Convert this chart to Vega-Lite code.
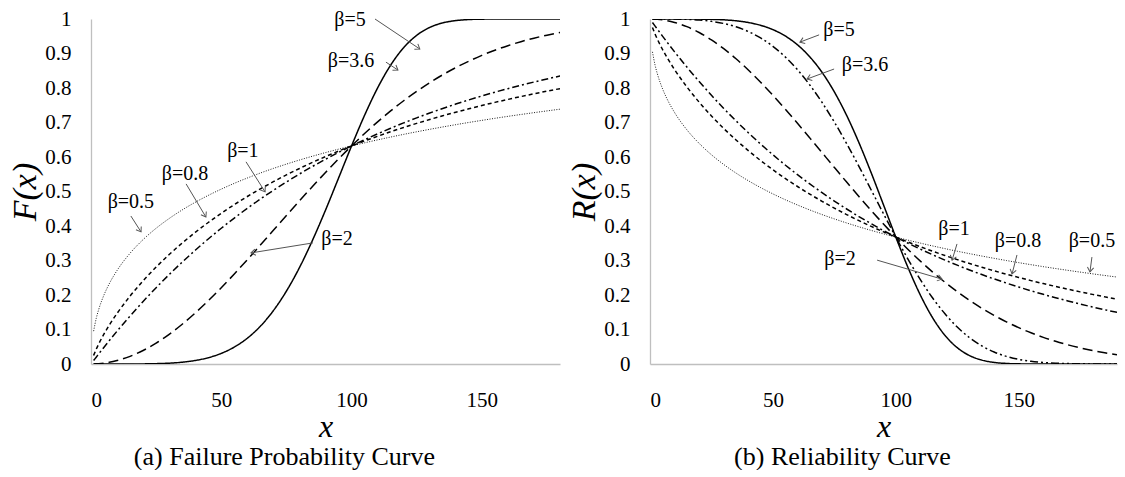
{
"$schema": "https://vega.github.io/schema/vega-lite/v6.json",
"background": "white",
"padding": {"left": 8, "top": 8, "right": 4, "bottom": 0},
"spacing": 7,
"resolve": {"scale": {"strokeDash": "independent", "x": "independent", "y": "independent"}},
"config": {
  "view": {"stroke": null},
  "font": "Liberation Serif",
  "text": {"font": "Liberation Serif"},
  "axis": {"domainColor": "#bfbfbf", "domainWidth": 1.3, "ticks": false, "grid": false, "labelOverlap": false, "labelSeparation": 0, "labelColor": "#000", "labelFont": "Liberation Serif", "labelFontSize": 21, "titleFont": "Liberation Serif", "titleFontWeight": "normal", "titleColor": "#000", "titleFontStyle": "italic"},
  "axisY": {"labelOverlap": false},
  "axisQuantitative": {"labelOverlap": false},
  "title": {"font": "Liberation Serif", "fontSize": 26, "fontWeight": "normal", "color": "#000", "orient": "bottom", "anchor": "middle", "frame": "bounds"}
},
"datasets": {
"curves": [
{"x":1,"F05":0.0952,"F08":0.0248,"F1":0.0100,"F2":0.0001,"F5":0,"R05":0.9048,"R08":0.9752,"R1":0.9900,"R2":0.9999,"R36":1,"R5":1},
{"x":2,"F05":0.1319,"F08":0.0428,"F1":0.0198,"F2":0.0004,"F5":0,"R05":0.8681,"R08":0.9572,"R1":0.9802,"R2":0.9996,"R36":1,"R5":1},
{"x":3,"F05":0.1590,"F08":0.0587,"F1":0.0296,"F2":0.0009,"F5":0,"R05":0.8410,"R08":0.9413,"R1":0.9704,"R2":0.9991,"R36":1,"R5":1},
{"x":5,"F05":0.2004,"F08":0.0870,"F1":0.0488,"F2":0.0025,"F5":0,"R05":0.7996,"R08":0.9130,"R1":0.9512,"R2":0.9975,"R36":1,"R5":1},
{"x":7,"F05":0.2325,"F08":0.1124,"F1":0.0676,"F2":0.0049,"F5":0,"R05":0.7675,"R08":0.8876,"R1":0.9324,"R2":0.9951,"R36":0.9999,"R5":1},
{"x":10,"F05":0.2711,"F08":0.1466,"F1":0.0952,"F2":0.0100,"F5":0,"R05":0.7289,"R08":0.8534,"R1":0.9048,"R2":0.9900,"R36":0.9997,"R5":1},
{"x":15,"F05":0.3211,"F08":0.1968,"F1":0.1393,"F2":0.0222,"F5":0.0001,"R05":0.6789,"R08":0.8032,"R1":0.8607,"R2":0.9778,"R36":0.9989,"R5":0.9999},
{"x":20,"F05":0.3606,"F08":0.2411,"F1":0.1813,"F2":0.0392,"F5":0.0003,"R05":0.6394,"R08":0.7589,"R1":0.8187,"R2":0.9608,"R36":0.9970,"R5":0.9997},
{"x":25,"F05":0.3935,"F08":0.2810,"F1":0.2212,"F2":0.0606,"F5":0.0010,"R05":0.6065,"R08":0.7190,"R1":0.7788,"R2":0.9394,"R36":0.9932,"R5":0.9990},
{"x":30,"F05":0.4217,"F08":0.3173,"F1":0.2592,"F2":0.0861,"F5":0.0024,"R05":0.5783,"R08":0.6827,"R1":0.7408,"R2":0.9139,"R36":0.9870,"R5":0.9976},
{"x":35,"F05":0.4466,"F08":0.3506,"F1":0.2953,"F2":0.1153,"F5":0.0052,"R05":0.5534,"R08":0.6494,"R1":0.7047,"R2":0.8847,"R36":0.9774,"R5":0.9948},
{"x":40,"F05":0.4687,"F08":0.3815,"F1":0.3297,"F2":0.1479,"F5":0.0102,"R05":0.5313,"R08":0.6185,"R1":0.6703,"R2":0.8521,"R36":0.9637,"R5":0.9898},
{"x":45,"F05":0.4887,"F08":0.4102,"F1":0.3624,"F2":0.1833,"F5":0.0183,"R05":0.5113,"R08":0.5898,"R1":0.6376,"R2":0.8167,"R36":0.9451,"R5":0.9817},
{"x":50,"F05":0.5069,"F08":0.4369,"F1":0.3935,"F2":0.2212,"F5":0.0308,"R05":0.4931,"R08":0.5631,"R1":0.6065,"R2":0.7788,"R36":0.9208,"R5":0.9692},
{"x":55,"F05":0.5237,"F08":0.4620,"F1":0.4231,"F2":0.2610,"F5":0.0491,"R05":0.4763,"R08":0.5380,"R1":0.5769,"R2":0.7390,"R36":0.8903,"R5":0.9509},
{"x":60,"F05":0.5391,"F08":0.4855,"F1":0.4512,"F2":0.3023,"F5":0.0748,"R05":0.4609,"R08":0.5145,"R1":0.5488,"R2":0.6977,"R36":0.8530,"R5":0.9252},
{"x":65,"F05":0.5535,"F08":0.5076,"F1":0.4780,"F2":0.3446,"F5":0.1095,"R05":0.4465,"R08":0.4924,"R1":0.5220,"R2":0.6554,"R36":0.8089,"R5":0.8905},
{"x":70,"F05":0.5669,"F08":0.5284,"F1":0.5034,"F2":0.3874,"F5":0.1547,"R05":0.4331,"R08":0.4716,"R1":0.4966,"R2":0.6126,"R36":0.7582,"R5":0.8453},
{"x":75,"F05":0.5794,"F08":0.5482,"F1":0.5276,"F2":0.4302,"F5":0.2113,"R05":0.4206,"R08":0.4518,"R1":0.4724,"R2":0.5698,"R36":0.7012,"R5":0.7887},
{"x":80,"F05":0.5912,"F08":0.5668,"F1":0.5507,"F2":0.4727,"F5":0.2794,"R05":0.4088,"R08":0.4332,"R1":0.4493,"R2":0.5273,"R36":0.6390,"R5":0.7206},
{"x":85,"F05":0.6023,"F08":0.5844,"F1":0.5726,"F2":0.5145,"F5":0.3584,"R05":0.3977,"R08":0.4156,"R1":0.4274,"R2":0.4855,"R36":0.5729,"R5":0.6416},
{"x":90,"F05":0.6128,"F08":0.6011,"F1":0.5934,"F2":0.5551,"F5":0.4459,"R05":0.3872,"R08":0.3989,"R1":0.4066,"R2":0.4449,"R36":0.5044,"R5":0.5541},
{"x":95,"F05":0.6227,"F08":0.6170,"F1":0.6133,"F2":0.5944,"F5":0.5387,"R05":0.3773,"R08":0.3830,"R1":0.3867,"R2":0.4056,"R36":0.4354,"R5":0.4613},
{"x":100,"F05":0.6321,"F08":0.6321,"F1":0.6321,"F2":0.6321,"F5":0.6321,"R05":0.3679,"R08":0.3679,"R1":0.3679,"R2":0.3679,"R36":0.3679,"R5":0.3679},
{"x":105,"F05":0.6411,"F08":0.6465,"F1":0.6501,"F2":0.6680,"F5":0.7209,"R05":0.3589,"R08":0.3535,"R1":0.3499,"R2":0.3320,"R36":0.3036,"R5":0.2791},
{"x":110,"F05":0.6496,"F08":0.6601,"F1":0.6671,"F2":0.7018,"F5":0.8002,"R05":0.3504,"R08":0.3399,"R1":0.3329,"R2":0.2982,"R36":0.2443,"R5":0.1998},
{"x":115,"F05":0.6578,"F08":0.6732,"F1":0.6834,"F2":0.7335,"F5":0.8662,"R05":0.3422,"R08":0.3268,"R1":0.3166,"R2":0.2665,"R36":0.1912,"R5":0.1338},
{"x":120,"F05":0.6656,"F08":0.6856,"F1":0.6988,"F2":0.7631,"F5":0.9170,"R05":0.3344,"R08":0.3144,"R1":0.3012,"R2":0.2369,"R36":0.1455,"R5":0.0830},
{"x":125,"F05":0.6731,"F08":0.6974,"F1":0.7135,"F2":0.7904,"F5":0.9527,"R05":0.3269,"R08":0.3026,"R1":0.2865,"R2":0.2096,"R36":0.1072,"R5":0.0473},
{"x":130,"F05":0.6802,"F08":0.7087,"F1":0.7275,"F2":0.8155,"F5":0.9756,"R05":0.3198,"R08":0.2913,"R1":0.2725,"R2":0.1845,"R36":0.0764,"R5":0.0244},
{"x":135,"F05":0.6871,"F08":0.7196,"F1":0.7408,"F2":0.8384,"F5":0.9887,"R05":0.3129,"R08":0.2804,"R1":0.2592,"R2":0.1616,"R36":0.0526,"R5":0.0113},
{"x":140,"F05":0.6937,"F08":0.7299,"F1":0.7534,"F2":0.8591,"F5":0.9954,"R05":0.3063,"R08":0.2701,"R1":0.2466,"R2":0.1409,"R36":0.0348,"R5":0.0046},
{"x":145,"F05":0.7001,"F08":0.7398,"F1":0.7654,"F2":0.8778,"F5":0.9984,"R05":0.2999,"R08":0.2602,"R1":0.2346,"R2":0.1222,"R36":0.0221,"R5":0.0016},
{"x":150,"F05":0.7062,"F08":0.7492,"F1":0.7769,"F2":0.8946,"F5":0.9995,"R05":0.2938,"R08":0.2508,"R1":0.2231,"R2":0.1054,"R36":0.0135,"R5":0.0005},
{"x":155,"F05":0.7121,"F08":0.7583,"F1":0.7878,"F2":0.9095,"F5":0.9999,"R05":0.2879,"R08":0.2417,"R1":0.2122,"R2":0.0905,"R36":0.0079,"R5":0.0001},
{"x":160,"F05":0.7178,"F08":0.7669,"F1":0.7981,"F2":0.9227,"F5":1,"R05":0.2822,"R08":0.2331,"R1":0.2019,"R2":0.0773,"R36":0.0044,"R5":0},
{"x":165,"F05":0.7232,"F08":0.7752,"F1":0.8080,"F2":0.9343,"F5":1,"R05":0.2768,"R08":0.2248,"R1":0.1920,"R2":0.0657,"R36":0.0023,"R5":0},
{"x":170,"F05":0.7285,"F08":0.7832,"F1":0.8173,"F2":0.9444,"F5":1,"R05":0.2715,"R08":0.2168,"R1":0.1827,"R2":0.0556,"R36":0.0012,"R5":0},
{"x":175,"F05":0.7336,"F08":0.7909,"F1":0.8262,"F2":0.9532,"F5":1,"R05":0.2664,"R08":0.2091,"R1":0.1738,"R2":0.0468,"R36":0.0006,"R5":0},
{"x":180,"F05":0.7386,"F08":0.7982,"F1":0.8347,"F2":0.9608,"F5":1,"R05":0.2614,"R08":0.2018,"R1":0.1653,"R2":0.0392,"R36":0.0002,"R5":0},
{"x":185,"F05":0.7434,"F08":0.8052,"F1":0.8428,"F2":0.9674,"F5":1,"R05":0.2566,"R08":0.1948,"R1":0.1572,"R2":0.0326,"R36":0.0001,"R5":0},
{"x":190,"F05":0.7480,"F08":0.8120,"F1":0.8504,"F2":0.9729,"F5":1,"R05":0.2520,"R08":0.1880,"R1":0.1496,"R2":0.0271,"R36":0,"R5":0}
],
"notesA": [
{"label":"β=5","tx":99.4,"ty":0.997,"x":109,"y":1.0,"x2":126.2,"y2":0.913},
{"label":"β=3.6","tx":99.8,"ty":0.878,"x":113.2,"y":0.875,"x2":117.8,"y2":0.852},
{"label":"β=2","tx":94.4,"ty":0.362,"x":85.2,"y":0.351,"x2":61.4,"y2":0.322},
{"label":"β=1","tx":58.3,"ty":0.617,"x":59.5,"y":0.586,"x2":66.8,"y2":0.499},
{"label":"β=0.8","tx":36.1,"ty":0.551,"x":36.5,"y":0.522,"x2":44.1,"y2":0.426},
{"label":"β=0.5","tx":15.3,"ty":0.470,"x":15.3,"y":0.429,"x2":19.2,"y2":0.383}
],
"notesB": [
{"label":"β=5","tx":76.9,"ty":0.968,"x":68.8,"y":0.954,"x2":61,"y2":0.933},
{"label":"β=3.6","tx":87.5,"ty":0.867,"x":74.9,"y":0.855,"x2":63.9,"y2":0.826},
{"label":"β=2","tx":77.3,"ty":0.304,"x":92.4,"y":0.301,"x2":118.8,"y2":0.246},
{"label":"β=1","tx":123.7,"ty":0.391,"x":124.9,"y":0.348,"x2":122.9,"y2":0.301},
{"label":"β=0.8","tx":149.7,"ty":0.357,"x":149.3,"y":0.316,"x2":147.3,"y2":0.261},
{"label":"β=0.5","tx":179.8,"ty":0.357,"x":179.8,"y":0.310,"x2":179,"y2":0.267}
]
},
"hconcat": [
{
 "width": 469, "height": 345,
 "title": {"text": "(a) Failure Probability Curve", "offset": 2},
 "layer": [
  {
   "data": {"name": "curves"},
   "transform": [{"fold": ["F05","F08","F1","F2","F5"], "as": ["series","value"]}],
   "mark": {"type": "line", "clip": true, "color": "#000", "interpolate": "monotone"},
   "encoding": {
     "x": {"field": "x", "type": "quantitative", "scale": {"domain": [0,180], "nice": false, "zero": true}, "axis": {"values": [0,50,100,150], "labelOverlap": false, "title": "x", "titleFontSize": 32, "labelPadding": 25, "titlePadding": 1}},
     "y": {"field": "value", "type": "quantitative", "scale": {"domain": [0,1], "nice": false}, "axis": {"values": [0,0.1,0.2,0.3,0.4,0.5,0.6,0.7,0.8,0.9,1], "labelOverlap": false, "labelSeparation": 0, "format": "~g", "title": "F(x)", "titleFontSize": 34, "labelPadding": 20, "titlePadding": 2}},
     "detail": {"field": "series"},
     "strokeDash": {"field": "series", "type": "nominal", "scale": {"domain": ["F05","F08","F1","F2","F5"], "range": [[1,1.5],[4,3],[7,3,2,3],[10,5],[1,0]]}, "legend": null},
     "strokeWidth": {"condition": {"test": "datum.series == 'F05'", "value": 0.9}, "value": 1.5}
   }
  },
  {
   "data": {"name": "notesA"},
   "mark": {"type": "rule", "color": "#555", "strokeWidth": 1},
   "encoding": {
     "x": {"field": "x", "type": "quantitative", "axis": {"values": [0,50,100,150], "labelOverlap": false, "title": "x", "titleFontSize": 32, "labelPadding": 25, "titlePadding": 1}},
     "y": {"field": "y", "type": "quantitative", "axis": {"values": [0,0.1,0.2,0.3,0.4,0.5,0.6,0.7,0.8,0.9,1], "labelOverlap": false, "labelSeparation": 0, "format": "~g", "title": "F(x)", "titleFontSize": 34, "labelPadding": 20, "titlePadding": 2}},
     "x2": {"field": "x2"}, "y2": {"field": "y2"}}
  },
  {
   "data": {"name": "notesA"},
   "transform": [{"calculate": "atan2(-(datum.y2-datum.y)*345,(datum.x2-datum.x)*2.606)*180/PI", "as": "ang"}],
   "mark": {"type": "point", "shape": "M-1,-0.7L0,0L-1,0.7", "filled": false, "color": "#555", "strokeWidth": 1, "size": 80, "opacity": 1},
   "encoding": {
     "x": {"field": "x2", "type": "quantitative", "axis": {"values": [0,50,100,150], "labelOverlap": false, "title": "x", "titleFontSize": 32, "labelPadding": 25, "titlePadding": 1}},
     "y": {"field": "y2", "type": "quantitative", "axis": {"values": [0,0.1,0.2,0.3,0.4,0.5,0.6,0.7,0.8,0.9,1], "labelOverlap": false, "labelSeparation": 0, "format": "~g", "title": "F(x)", "titleFontSize": 34, "labelPadding": 20, "titlePadding": 2}},
     "angle": {"field": "ang", "type": "quantitative", "scale": null}}
  },
  {
   "data": {"name": "notesA"},
   "mark": {"type": "text", "font": "Liberation Serif", "fontSize": 20, "color": "#000", "align": "center", "baseline": "middle"},
   "encoding": {
     "x": {"field": "tx", "type": "quantitative", "axis": {"values": [0,50,100,150], "labelOverlap": false, "title": "x", "titleFontSize": 32, "labelPadding": 25, "titlePadding": 1}},
     "y": {"field": "ty", "type": "quantitative", "axis": {"values": [0,0.1,0.2,0.3,0.4,0.5,0.6,0.7,0.8,0.9,1], "labelOverlap": false, "labelSeparation": 0, "format": "~g", "title": "F(x)", "titleFontSize": 34, "labelPadding": 20, "titlePadding": 2}},
     "text": {"field": "label"}}
  }
 ]
},
{
 "width": 467, "height": 345,
 "title": {"text": "(b) Reliability Curve", "offset": 2},
 "layer": [
  {
   "data": {"name": "curves"},
   "transform": [{"fold": ["R05","R08","R1","R2","R36","R5"], "as": ["series","value"]}],
   "mark": {"type": "line", "clip": true, "color": "#000", "interpolate": "monotone"},
   "encoding": {
     "x": {"field": "x", "type": "quantitative", "scale": {"domain": [0,190], "nice": false, "zero": true}, "axis": {"values": [0,50,100,150], "labelOverlap": false, "title": "x", "titleFontSize": 32, "labelPadding": 25, "titlePadding": 1}},
     "y": {"field": "value", "type": "quantitative", "scale": {"domain": [0,1], "nice": false}, "axis": {"values": [0,0.1,0.2,0.3,0.4,0.5,0.6,0.7,0.8,0.9,1], "labelOverlap": false, "labelSeparation": 0, "format": "~g", "title": "R(x)", "titleFontSize": 34, "labelPadding": 20, "titlePadding": 2}},
     "detail": {"field": "series"},
     "strokeDash": {"field": "series", "type": "nominal", "scale": {"domain": ["R05","R08","R1","R2","R36","R5"], "range": [[1,1.5],[4,3],[7,3,2,3],[10,5],[8,3,2,3,2,3],[1,0]]}, "legend": null},
     "strokeWidth": {"condition": {"test": "datum.series == 'R05'", "value": 0.9}, "value": 1.5}
   }
  },
  {
   "data": {"name": "notesB"},
   "mark": {"type": "rule", "color": "#555", "strokeWidth": 1},
   "encoding": {
     "x": {"field": "x", "type": "quantitative", "axis": {"values": [0,50,100,150], "labelOverlap": false, "title": "x", "titleFontSize": 32, "labelPadding": 25, "titlePadding": 1}},
     "y": {"field": "y", "type": "quantitative", "axis": {"values": [0,0.1,0.2,0.3,0.4,0.5,0.6,0.7,0.8,0.9,1], "labelOverlap": false, "labelSeparation": 0, "format": "~g", "title": "R(x)", "titleFontSize": 34, "labelPadding": 20, "titlePadding": 2}},
     "x2": {"field": "x2"}, "y2": {"field": "y2"}}
  },
  {
   "data": {"name": "notesB"},
   "transform": [{"calculate": "atan2(-(datum.y2-datum.y)*345,(datum.x2-datum.x)*2.458)*180/PI", "as": "ang"}],
   "mark": {"type": "point", "shape": "M-1,-0.7L0,0L-1,0.7", "filled": false, "color": "#555", "strokeWidth": 1, "size": 80, "opacity": 1},
   "encoding": {
     "x": {"field": "x2", "type": "quantitative", "axis": {"values": [0,50,100,150], "labelOverlap": false, "title": "x", "titleFontSize": 32, "labelPadding": 25, "titlePadding": 1}},
     "y": {"field": "y2", "type": "quantitative", "axis": {"values": [0,0.1,0.2,0.3,0.4,0.5,0.6,0.7,0.8,0.9,1], "labelOverlap": false, "labelSeparation": 0, "format": "~g", "title": "R(x)", "titleFontSize": 34, "labelPadding": 20, "titlePadding": 2}},
     "angle": {"field": "ang", "type": "quantitative", "scale": null}}
  },
  {
   "data": {"name": "notesB"},
   "mark": {"type": "text", "font": "Liberation Serif", "fontSize": 20, "color": "#000", "align": "center", "baseline": "middle"},
   "encoding": {
     "x": {"field": "tx", "type": "quantitative", "axis": {"values": [0,50,100,150], "labelOverlap": false, "title": "x", "titleFontSize": 32, "labelPadding": 25, "titlePadding": 1}},
     "y": {"field": "ty", "type": "quantitative", "axis": {"values": [0,0.1,0.2,0.3,0.4,0.5,0.6,0.7,0.8,0.9,1], "labelOverlap": false, "labelSeparation": 0, "format": "~g", "title": "R(x)", "titleFontSize": 34, "labelPadding": 20, "titlePadding": 2}},
     "text": {"field": "label"}}
  }
 ]
}
]
}
